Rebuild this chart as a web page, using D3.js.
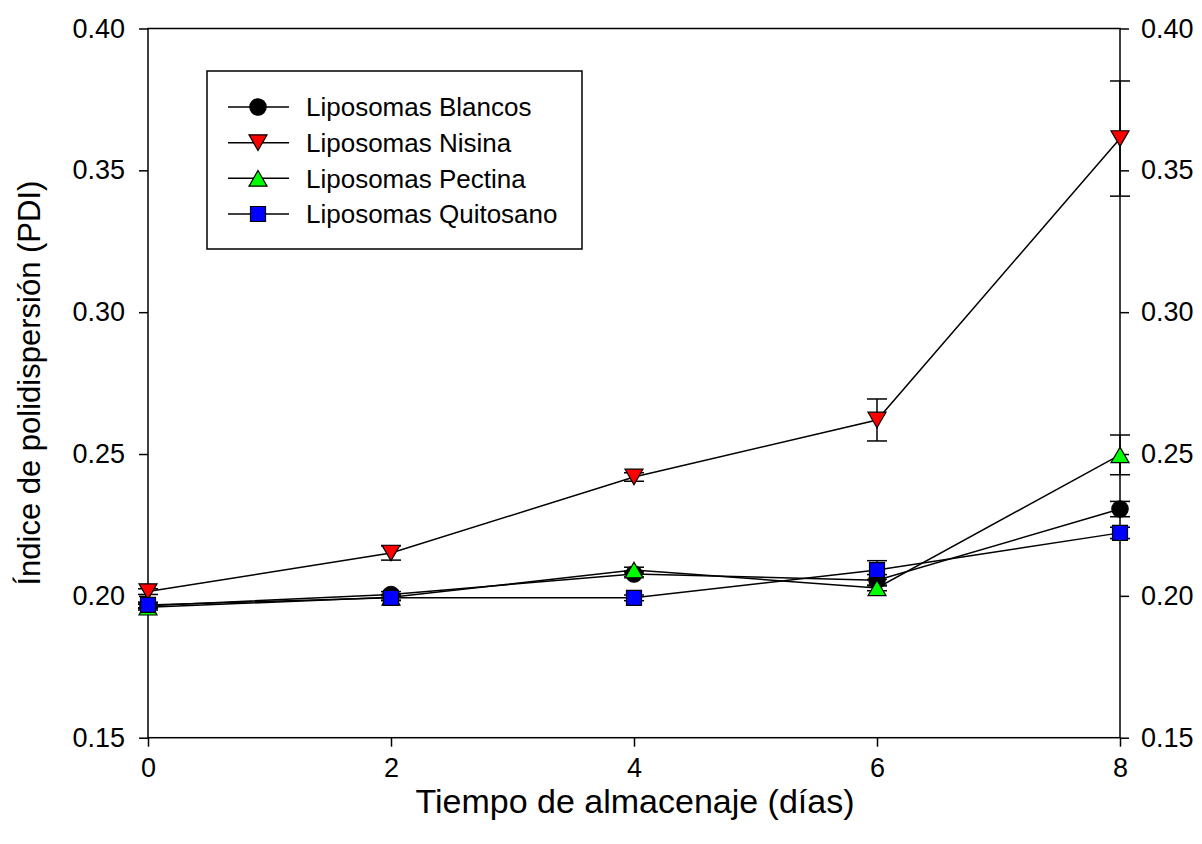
<!DOCTYPE html>
<html>
<head>
<meta charset="utf-8">
<script src="https://cdn.jsdelivr.net/npm/d3@7"></script>
<style>
  html, body { margin: 0; padding: 0; background: #fff; }
  svg { display: block; font-family: "Liberation Sans", Arial, sans-serif; }
</style>
</head>
<body>
<svg id="chart" width="1202" height="844"></svg>
<script>
// --- data
const days = [0, 2, 4, 6, 8];
const blancos      = [0.1965, 0.2005, 0.2077, 0.2055, 0.2306];
const blancosErr   = [0.0010, 0.0010, 0.0010, 0.0020, 0.0027];
const nisina       = [0.2015, 0.2151, 0.2419, 0.2620, 0.3612];
const nisinaErr    = [0.0010, 0.0025, 0.0015, 0.0074, 0.0203];
const pectina      = [0.1960, 0.1995, 0.2091, 0.2028, 0.2497];
const pectinaErr   = [0.0010, 0.0010, 0.0010, 0.0010, 0.0070];
const quitosano    = [0.1968, 0.1993, 0.1993, 0.2091, 0.2222];
const quitosanoErr = [0.0010, 0.0010, 0.0010, 0.0033, 0.0020];
const xTicks = [0, 2, 4, 6, 8];
const yTicks = [0.15, 0.20, 0.25, 0.30, 0.35, 0.40];

const series = [
  { name: "Liposomas Blancos",   vals: blancos,   err: blancosErr,   shape: "circle",   fill: "#000000" },
  { name: "Liposomas Nisina",    vals: nisina,    err: nisinaErr,    shape: "triDown",  fill: "#ff0000" },
  { name: "Liposomas Pectina",   vals: pectina,   err: pectinaErr,   shape: "triUp",    fill: "#00ff00" },
  { name: "Liposomas Quitosano", vals: quitosano, err: quitosanoErr, shape: "square",   fill: "#0000ff" }
];

const svg = d3.select("#chart");
const L = 148, R = 1120, T = 28.5, B = 737.7;

const x = d3.scaleLinear().domain([0, 8]).range([L, R]);
const y = d3.scaleLinear().domain([0.15, 0.40]).range([B, T]);

// symbol path helper
function markerPath(shape) {
  if (shape === "circle") return d3.symbol(d3.symbolCircle, 210)();
  if (shape === "square") return d3.symbol(d3.symbolSquare, 225)();
  // triangles: side ~18px, centred on bbox
  const s = 18, h = s * Math.sqrt(3) / 2;
  if (shape === "triUp") return `M0,${-h/2}L${s/2},${h/2}L${-s/2},${h/2}Z`;
  return `M0,${h/2}L${s/2},${-h/2}L${-s/2},${-h/2}Z`;
}

// --- axes
const fontTick = 27;
const gLeft = svg.append("g").attr("transform", `translate(${L},0)`)
  .call(d3.axisLeft(y).tickValues(yTicks).tickFormat(d3.format(".2f")).tickSize(9).tickPadding(14));
const gRight = svg.append("g").attr("transform", `translate(${R},0)`)
  .call(d3.axisRight(y).tickValues(yTicks).tickFormat(d3.format(".2f")).tickSize(9).tickPadding(12));
const gBottom = svg.append("g").attr("transform", `translate(0,${B})`)
  .call(d3.axisBottom(x).tickValues(xTicks).tickFormat(d3.format("d")).tickSize(9).tickPadding(11));

[gLeft, gRight, gBottom].forEach(g => {
  g.select(".domain").remove();
  g.selectAll(".tick line").attr("stroke", "#000").attr("stroke-width", 1.5);
  g.selectAll(".tick text").attr("fill", "#000").style("font-size", fontTick + "px")
    .style("font-family", '"Liberation Sans", Arial, sans-serif');
});

// frame
svg.append("rect").attr("x", L).attr("y", T).attr("width", R - L).attr("height", B - T)
  .attr("fill", "none").attr("stroke", "#000").attr("stroke-width", 1.5);

// axis titles
svg.append("text").attr("x", (L + R) / 2 + 1).attr("y", 813).attr("text-anchor", "middle")
  .style("font-size", "34px").attr("fill", "#000").text("Tiempo de almacenaje (días)");
svg.append("text").attr("transform", `translate(40,${(T + B) / 2}) rotate(-90)`)
  .attr("text-anchor", "middle").style("font-size", "31px").attr("fill", "#000")
  .text("Índice de polidispersión (PDI)");

// --- series
const line = d3.line().x((d, i) => x(days[i])).y(d => y(d));
series.forEach(s => {
  const g = svg.append("g");
  g.append("path").datum(s.vals).attr("d", line)
    .attr("fill", "none").attr("stroke", "#000").attr("stroke-width", 1.5);
  // error bars
  const eb = g.selectAll(".eb").data(s.vals).enter().append("g");
  eb.append("line").attr("x1", (d, i) => x(days[i])).attr("x2", (d, i) => x(days[i]))
    .attr("y1", (d, i) => y(d - s.err[i])).attr("y2", (d, i) => y(d + s.err[i]))
    .attr("stroke", "#000").attr("stroke-width", 1.5);
  [-1, 1].forEach(sign => {
    eb.append("line").attr("x1", (d, i) => x(days[i]) - 10).attr("x2", (d, i) => x(days[i]) + 10)
      .attr("y1", (d, i) => y(d + sign * s.err[i])).attr("y2", (d, i) => y(d + sign * s.err[i]))
      .attr("stroke", "#000").attr("stroke-width", 1.5);
  });
  g.selectAll(".mk").data(s.vals).enter().append("path")
    .attr("d", markerPath(s.shape))
    .attr("transform", (d, i) => `translate(${x(days[i])},${y(d)})`)
    .attr("fill", s.fill).attr("stroke", "#000").attr("stroke-width", 1.2);
});

// --- legend
const lg = svg.append("g");
lg.append("rect").attr("x", 207).attr("y", 71).attr("width", 375).attr("height", 178)
  .attr("fill", "#fff").attr("stroke", "#000").attr("stroke-width", 1.5);
const rowY = d3.scalePoint().domain(series.map(s => s.name)).range([107, 214]);
series.forEach(s => {
  const yy = rowY(s.name);
  lg.append("line").attr("x1", 228).attr("x2", 289).attr("y1", yy).attr("y2", yy)
    .attr("stroke", "#000").attr("stroke-width", 1.5);
  lg.append("path").attr("d", markerPath(s.shape)).attr("transform", `translate(258,${yy})`)
    .attr("fill", s.fill).attr("stroke", "#000").attr("stroke-width", 1.2);
  lg.append("text").attr("x", 306).attr("y", yy).attr("dy", "0.36em")
    .style("font-size", "26px").attr("fill", "#000").text(s.name);
});
</script>
</body>
</html>
